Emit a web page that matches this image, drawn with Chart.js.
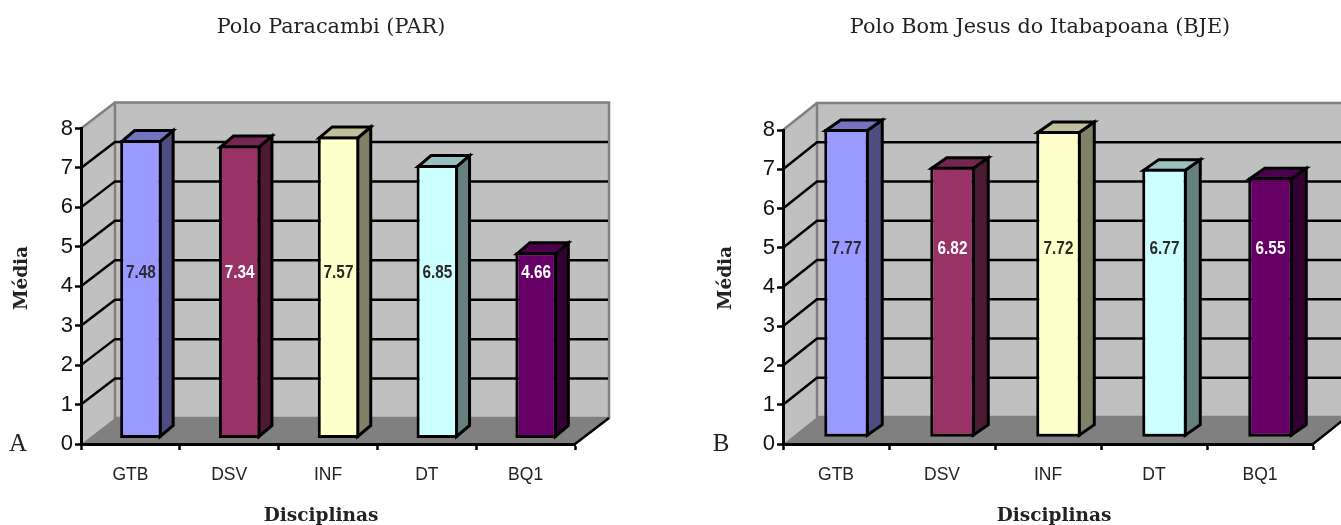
<!DOCTYPE html>
<html>
<head>
<meta charset="utf-8">
<title>Polos</title>
<script src="https://cdn.jsdelivr.net/npm/chart.js@4"></script>
<style>
  html, body { margin: 0; background: #fff; overflow: hidden; width: 1341px; height: 525px; }
  canvas { position: absolute; top: 0; }
  #chartPar { left: 0; }
  #chartBje { left: 665px; }
</style>
</head>
<body>
<canvas id="chartPar" width="665" height="525"></canvas>
<canvas id="chartBje" width="676" height="525"></canvas>
<script>
const categories = ['GTB', 'DSV', 'INF', 'DT', 'BQ1'];
const valuesPar = [7.48, 7.34, 7.57, 6.85, 4.66];
const valuesBje = [7.77, 6.82, 7.72, 6.77, 6.55];
const yTicks = [0, 1, 2, 3, 4, 5, 6, 7, 8];

const frontColors = ['#9999ff', '#993366', '#ffffcc', '#ccffff', '#660066'];
const topColors = ['#7373bf', '#732650', '#bfbf99', '#99bfbf', '#4d004d'];
const sideColors = ['#4d4d80', '#4d1a33', '#808066', '#668080', '#330033'];
const labelColors = ['#2a2a33', '#ffffff', '#2a2a22', '#2a2a2a', '#ffffff'];

const titleFont = '20.8px "DejaVu Serif"';
const axisTitleFont = 'bold 18.5px "DejaVu Serif"';
const labelFont = 'bold 18px "Liberation Sans"';

function polygon(ctx, points, fill, stroke, width) {
  ctx.beginPath();
  points.forEach((p, i) => i ? ctx.lineTo(p[0], p[1]) : ctx.moveTo(p[0], p[1]));
  ctx.closePath();
  if (fill) { ctx.fillStyle = fill; ctx.fill(); }
  if (stroke) { ctx.strokeStyle = stroke; ctx.lineWidth = width; ctx.stroke(); }
}

function text(ctx, str, x, y, font, color, angle, squeeze) {
  ctx.save();
  ctx.translate(x, y);
  ctx.rotate(angle || 0);
  ctx.scale(squeeze || 1, 1);
  ctx.font = font;
  ctx.fillStyle = color;
  ctx.textAlign = 'center';
  ctx.textBaseline = 'middle';
  ctx.fillText(str, 0, 0);
  ctx.restore();
}

// the 3d box: walls, floor and depth lines are drawn from the scales
const boxPlugin = {
  id: 'box',
  beforeDraw(chart, args, opts) {
    const ctx = chart.ctx;
    const { x, y } = chart.scales;
    const { wallX: dx, wallY: dy } = opts;
    const top = y.getPixelForValue(y.max);
    const bottom = y.getPixelForValue(0);

    ctx.save();
    polygon(ctx, [[x.left, top], [x.left + dx, top + dy], [x.left + dx, bottom + dy], [x.left, bottom]], '#c0c0c0');
    polygon(ctx, [[x.left + dx, top + dy], [x.right + dx, top + dy], [x.right + dx, bottom + dy], [x.left + dx, bottom + dy]], '#c0c0c0', '#808080', 2.5);
    polygon(ctx, [[x.left, bottom], [x.left + dx, bottom + dy], [x.right + dx, bottom + dy], [x.right, bottom]], '#808080');

    ctx.strokeStyle = '#808080';
    ctx.lineWidth = 2.5;
    ctx.beginPath();
    ctx.moveTo(x.left, top);
    ctx.lineTo(x.left + dx, top + dy);
    ctx.stroke();

    ctx.strokeStyle = '#000';
    ctx.beginPath();
    ctx.moveTo(x.right, bottom);
    ctx.lineTo(x.right + dx, bottom + dy);
    y.ticks.forEach(t => {
      if (t.value === y.min || t.value === y.max) return;
      const py = y.getPixelForValue(t.value);
      ctx.moveTo(x.left, py);
      ctx.lineTo(x.left + dx, py + dy);
      ctx.lineTo(x.right + dx - 1, py + dy);
    });
    ctx.stroke();
    ctx.restore();
  },
  beforeDatasetDraw(chart, args, opts) {
    const ctx = chart.ctx;
    args.meta.data.forEach((bar, i) => {
      const left = bar.x - bar.width / 2 + opts.shiftX + 1.5;
      const right = bar.x + bar.width / 2 + opts.shiftX - 1.5;
      const top = bar.y + opts.shiftY + 1.5;
      const base = bar.base + opts.shiftY - 1.5;
      polygon(ctx, [[right, top], [right + opts.barX, top + opts.barY], [right + opts.barX, base + opts.barY], [right, base]], sideColors[i], '#000', 3);
      polygon(ctx, [[left, top], [left + opts.barX, top + opts.barY], [right + opts.barX, top + opts.barY], [right, top]], topColors[i], '#000', 3);
    });
    ctx.save();
    ctx.translate(opts.shiftX, opts.shiftY);
  },
  afterDatasetDraw(chart) {
    chart.ctx.restore();
  },
  afterDraw(chart, args, opts) {
    const ctx = chart.ctx;
    const { y } = chart.scales;
    chart.getDatasetMeta(0).data.forEach((bar, i) => {
      const value = chart.data.datasets[0].data[i];
      text(ctx, value.toFixed(2), bar.x + opts.shiftX, y.getPixelForValue(opts.labelLevel), labelFont, labelColors[i], 0, 0.85);
    });
    text(ctx, opts.title, opts.titleX, 28, titleFont, '#222');
    text(ctx, 'Média', opts.yTitleX, 278, axisTitleFont, '#222', -Math.PI / 2);
    text(ctx, 'Disciplinas', opts.xTitleX, 516, axisTitleFont, '#222');
    text(ctx, opts.letter, opts.letterX, 444, '25px "Liberation Serif"', '#222');
  }
};

function makeChart(id, values, yWidth, rightPad, barPct, barMax, box) {
  return new Chart(document.getElementById(id), {
    type: 'bar',
    data: {
      labels: categories,
      datasets: [{
        data: values,
        yAxisID: 'yBars',
        backgroundColor: frontColors,
        borderColor: '#000',
        borderWidth: 3,
        borderSkipped: false,
        barPercentage: barPct,
        categoryPercentage: 1,
        clip: false
      }]
    },
    options: {
      responsive: false,
      animation: false,
      layout: { padding: { left: 0, top: box.top, right: rightPad, bottom: 0 } },
      plugins: { legend: { display: false }, title: { display: false }, tooltip: { enabled: false }, box: box },
      scales: {
        x: {
          afterFit: scale => { scale.height = 81; },
          grid: { offset: true, drawOnChartArea: false, tickLength: 6, tickColor: '#000', tickWidth: 2.5 },
          border: { color: '#000', width: 3 },
          ticks: { color: '#222', padding: 15, maxRotation: 0, font: { family: 'Liberation Sans', size: 17.5 } }
        },
        y: {
          min: yTicks[0],
          max: yTicks[yTicks.length - 1],
          afterFit: scale => { scale.width = yWidth; },
          afterBuildTicks: scale => { scale.ticks = yTicks.map(v => ({ value: v })); },
          grid: { drawOnChartArea: false, tickLength: 6, tickColor: '#000', tickWidth: 2.5 },
          border: { color: '#000', width: 3 },
          ticks: { color: '#111', padding: 2, font: { family: 'Liberation Sans', size: 22 } }
        },
        // the bars stand a little deeper in the box, so their axis is a bit shorter
        yBars: { display: false, min: 0, max: barMax }
      }
    },
    plugins: [boxPlugin]
  });
}

makeChart('chartPar', valuesPar, 81, 90, 0.42, 7.92, {
  top: 128.5, wallX: 34, wallY: -26, shiftX: 10.5, shiftY: -6, barX: 13, barY: -11, labelLevel: 4.33,
  title: 'Polo Paracambi (PAR)', titleX: 331, yTitleX: 22, xTitleX: 321, letter: 'A', letterX: 18
});

makeChart('chartBje', valuesBje, 118, 28, 0.42, 7.93, {
  top: 130, wallX: 34, wallY: -27, shiftX: 10.5, shiftY: -7.3, barX: 15, barY: -10.5, labelLevel: 4.98,
  title: 'Polo Bom Jesus do Itabapoana (BJE)', titleX: 375, yTitleX: 61, xTitleX: 389, letter: 'B', letterX: 56
});
</script>
</body>
</html>
